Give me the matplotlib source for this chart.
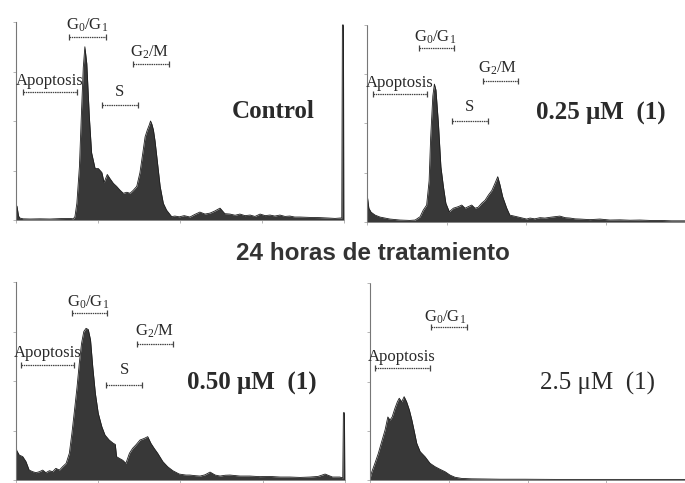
import matplotlib
matplotlib.use("Agg")
import matplotlib.pyplot as plt
from matplotlib.lines import Line2D

# DNA content histograms (channel 0..1024, counts as % of full scale)
ctrl_ch = [0, 3, 8, 12, 22, 44, 75, 106, 137, 169, 179, 184, 190, 198, 205, 210, 215, 221, 229, 236,
           247, 257, 268, 275, 285, 293, 304, 314, 325, 335, 346, 356, 366, 377, 387, 396, 403, 410, 416, 420,
           424, 429, 434, 441, 450, 460, 470, 486, 496, 510, 525, 543, 558, 574, 590, 606, 620, 637, 652, 668,
           684, 699, 715, 731, 746, 762, 778, 793, 808, 824, 840, 855, 870, 887, 918, 949, 975, 996, 1012, 1017,
           1019, 1022, 1024]
ctrl_cnt = [7.5, 7, 2, 1, 0.6, 0.5, 0.6, 0.5, 0.7, 0.8, 0.6, 1.7, 8.5, 27, 57, 77, 87.5, 79, 52, 34,
            26, 26, 24, 19, 23, 21, 18.5, 17, 15, 13.5, 14, 13.5, 15, 17, 24, 34, 42, 45.5, 48, 50,
            48.5, 45.5, 40, 30, 17, 8.4, 5, 1.7, 2, 1.6, 2.2, 1.5, 2.8, 4, 3, 3.5, 4.5, 6, 3.2, 3,
            2.4, 3, 2.2, 2.5, 1.8, 3, 2.2, 2.5, 2, 2.5, 1.8, 2, 1.5, 1.5, 1.3, 1.2, 1, 0.8, 1, 1,
            98.5, 98.5, 0]

d025_ch = [0, 2, 6, 13, 26, 42, 74, 106, 138, 155, 171, 181, 192, 200, 205, 212, 217, 222, 230, 238,
           246, 254, 265, 278, 294, 305, 316, 326, 337, 348, 358, 369, 380, 391, 402, 412, 421, 428, 437, 450,
           460, 482, 514, 525, 540, 557, 573, 590, 605, 621, 638, 654, 670, 686, 718, 750, 782, 815, 847, 879,
           911, 943, 980, 1024]
d025_cnt = [14, 12, 7, 5, 3.5, 2.5, 1.5, 1, 0.8, 1, 2.7, 6, 8.6, 21, 43, 64, 70, 67, 50, 28,
            18, 9.5, 5.2, 7, 7.8, 8.6, 7, 7.8, 8.6, 7, 7.5, 9.5, 11, 13.7, 16, 19.6, 23, 19, 12.8, 7,
            3.5, 2.7, 1.5, 2, 1.6, 2.2, 2, 2.4, 2.7, 3, 2.2, 2, 1.6, 1.5, 1.2, 1.5, 1, 1.1, 0.9, 1,
            0.8, 0.8, 0.6, 0.6]

d050_ch = [0, 2, 10, 21, 31, 41, 52, 62, 73, 83, 93, 104, 114, 124, 135, 145, 156, 166, 174, 181,
           190, 197, 204, 211, 218, 225, 232, 239, 247, 256, 267, 277, 290, 303, 309, 313, 321, 332, 342, 353,
           363, 373, 386, 399, 410, 420, 430, 441, 457, 472, 488, 508, 529, 541, 557, 573, 588, 604, 620, 635,
           651, 666, 697, 728, 759, 790, 822, 853, 884, 915, 940, 962, 985, 1008, 1017, 1019, 1022, 1024]
d050_cnt = [19, 15, 12.6, 11.8, 9.3, 5, 4.2, 3.7, 4.2, 5, 3.7, 4.7, 4.2, 5.9, 5, 6.7, 8.4, 13.5, 23.6, 33.7,
            47, 59, 69, 75, 76.6, 76, 70.7, 57, 43.8, 33.7, 27, 22.7, 20.2, 18.5, 18, 11.8, 11, 10, 8.4, 13.5,
            16, 17.7, 20.2, 21, 21.9, 18.5, 16, 13.5, 9.3, 6.7, 4.7, 3, 2.5, 2.5, 2.2, 2, 2.6, 4, 2.5, 2,
            2.4, 2.5, 2, 2, 1.7, 1.8, 1.5, 1.5, 1.3, 1.5, 1.8, 3, 1.5, 1.5, 1, 34, 34, 0]

d25_ch = [0, 6, 16, 27, 38, 49, 58, 65, 72, 81, 89, 95, 103, 111, 119, 128, 136, 143, 152, 163,
          179, 195, 211, 228, 244, 260, 276, 298, 330, 380, 423, 500, 600, 700, 800, 900, 1024]
d25_cnt = [0.8, 4.2, 8.5, 13.5, 19.5, 25.4, 32, 30.4, 32, 36.4, 39.7, 41.5, 39.7, 42.3, 39.7, 35.5, 30.5, 25.4, 18.6, 14.4,
           11.8, 8.5, 6.8, 5.4, 4.2, 2.5, 1.4, 0.8, 0.6, 0.5, 0.4, 0.4, 0.3, 0.3, 0.3, 0.3, 0.3]

doses = ["Control", "0.25 \u03bcM  (1)", "0.50 \u03bcM  (1)", "2.5 \u03bcM  (1)"]
title = "24 horas de tratamiento"

plt.rcParams['mathtext.fontset'] = 'custom'
plt.rcParams['mathtext.rm'] = 'Liberation Serif'
plt.rcParams['mathtext.it'] = 'Liberation Serif:italic'

W, H = 685, 483
def fx(px):
    return px / W
def fy(py):
    return 1 - py / H

fig = plt.figure(figsize=(6.85, 4.83), dpi=100)
txt_col = '#2a2a2a'
serif = 'Liberation Serif'

G01 = r'G$_\mathrm{0}$/G$_\mathrm{1}$'
G2M = r'G$_\mathrm{2}$/M'

# panel boxes in pixels: left, top, right, bottom
boxes = [(16, 22, 344, 220), (367, 25, 685, 222), (16, 282, 345, 480), (370, 283, 685, 480)]
series = [(ctrl_ch, ctrl_cnt), (d025_ch, d025_cnt), (d050_ch, d050_cnt), (d25_ch, d25_cnt)]

# phase labels: (text, x, y, bracket x0, bracket x1, bracket y)
phase_labels = [
    [(G01, 87, 25, 69, 106, 37), ('Apoptosis', 50, 81, 23, 77, 92),
     ('S', 119, 92, 102, 138, 105), (G2M, 150, 52, 133, 169, 64)],
    [(G01, 435, 37, 419, 454, 48), (G2M, 498, 68, 483, 518, 81),
     ('Apoptosis', 400, 83, 373, 427, 94), ('S', 469, 107, 452, 488, 121)],
    [(G01, 88, 302, 72, 107, 313), (G2M, 155, 331, 137, 173, 344),
     ('Apoptosis', 48, 353, 21, 74, 365), ('S', 124, 370, 106, 142, 385)],
    [(G01, 445, 317, 431, 467, 327), ('Apoptosis', 402, 357, 375, 430, 368)],
]
dose_pos = [(273, 112, 'bold'), (601, 113, 'bold'), (252, 383, 'bold'), (598, 383, 'normal')]

for i, (l, t, r, b) in enumerate(boxes):
    ax = fig.add_axes([fx(l), fy(b), (r - l) / W, (b - t) / H])
    ch, cnt = series[i]
    ax.fill_between(ch, cnt, 0, color='#383838', lw=0)
    ax.plot(ch, cnt, color='#1e1e1e', lw=0.6)
    ax.set_xlim(0, 1024)
    ax.set_ylim(0, 100)
    for s in ['top', 'right']:
        ax.spines[s].set_visible(False)
    ax.spines['left'].set_linestyle((0, (1, 1)))
    ax.spines['left'].set_color('#777777')
    ax.spines['left'].set_linewidth(0.8)
    ax.spines['bottom'].set_linestyle((0, (1, 1)))
    ax.spines['bottom'].set_color('#888888')
    ax.spines['bottom'].set_linewidth(0.7)
    ax.set_yticks([0, 25, 50, 75, 100])
    ax.set_xticks([0, 256, 512, 768, 1024])
    ax.tick_params(length=2, width=0.5, color='#999999', labelleft=False, labelbottom=False)
    ax.patch.set_alpha(0)

    for lab, x, y, bx0, bx1, by in phase_labels[i]:
        fig.text(fx(x), fy(y), lab, ha='center', va='center', fontsize=12,
                 family=serif, color=txt_col)
        fig.add_artist(Line2D([fx(bx0), fx(bx1)], [fy(by), fy(by)], transform=fig.transFigure,
                              color='#444444', lw=0.9, ls=(0, (1.2, 0.6)),
                              marker='|', markersize=4, markeredgewidth=0.9))
    dx, dy, wt = dose_pos[i]
    fig.text(fx(dx), fy(dy), doses[i], ha='center', va='center', fontsize=18,
             family=serif, weight=wt, color=txt_col)

fig.text(fx(373), fy(253), title, ha='center', va='center', fontsize=17.5,
         family='Liberation Sans', weight='bold', color='#333333')

fig.savefig('out.png', dpi=100)
